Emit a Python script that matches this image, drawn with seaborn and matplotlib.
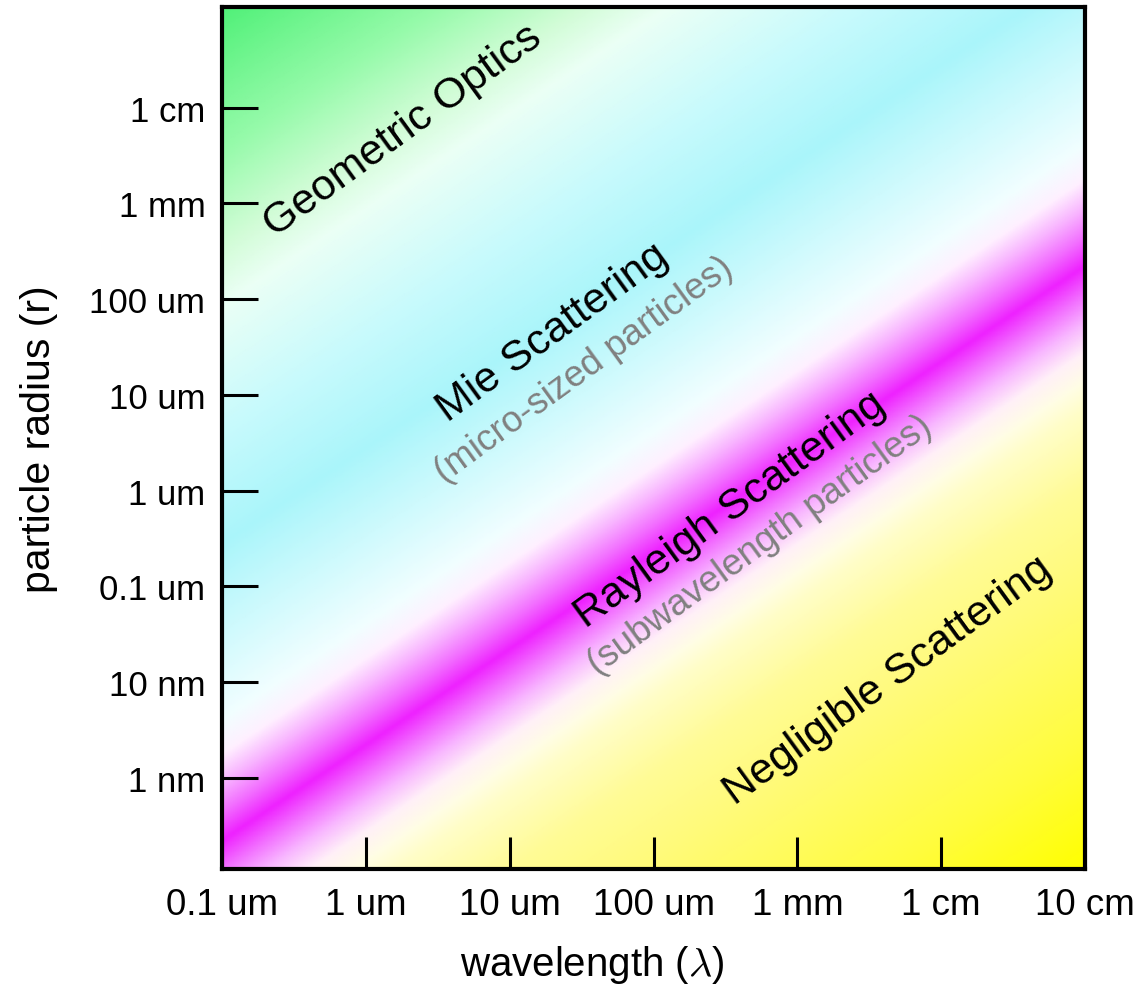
import numpy as np
import matplotlib
matplotlib.use("Agg")
import matplotlib.pyplot as plt
import seaborn as sns
from matplotlib.colors import LinearSegmentedColormap
from matplotlib.ticker import NullLocator

# axis ticks (metres) and their labels
wavelength_ticks = [1e-7, 1e-6, 1e-5, 1e-4, 1e-3, 1e-2, 1e-1]
wavelength_labels = ["0.1 um", "1 um", "10 um", "100 um", "1 mm", "1 cm", "10 cm"]
radius_ticks = [1e-9, 1e-8, 1e-7, 1e-6, 1e-5, 1e-4, 1e-3, 1e-2]
radius_labels = ["1 nm", "10 nm", "0.1 um", "1 um", "10 um", "100 um", "1 mm", "1 cm"]

# background colour as a function of log10(r / lambda)
ratio_stops = [-8.95, -7.65, -5.85, -4.95, -4.15, -3.85, -3.55, -3.25, -2.95, -2.65,
               -2.35, -2.05, -1.75, -1.4, 0.45, 1.65, 2.95, 3.55, 4.55, 6.05]
stop_colors = ["#FFFF00", "#FFFC3C", "#FFFA7A", "#FFFB96", "#FFFDC8", "#FFFDE6",
               "#FFF0F8", "#F8B8FF", "#F270FF", "#EE22FF", "#F270FF", "#F8B4FF",
               "#FFF0FF", "#F2FEFF", "#AAF5FA", "#C8FAFC", "#EBFFF5", "#D2FCD7",
               "#96FAAA", "#50F078"]

# regime labels
regime_names = ["Geometric Optics", "Mie Scattering", "(micro-sized particles)",
                "Rayleigh Scattering", "(subwavelength particles)", "Negligible Scattering"]
regime_colors = ["black", "black", "#808080", "black", "#808080", "black"]
regime_sizes = [31, 31, 26.5, 31, 26.5, 31]

sns.set_theme(style="white")
plt.rcParams["font.family"] = ["Liberation Sans", "DejaVu Sans"]
plt.rcParams["mathtext.fontset"] = "cm"

fig = plt.figure(figsize=(11.43, 9.87), dpi=100)
ax = fig.add_axes([0.1942, 0.1185, 0.7551, 0.8734])
ax.set_axisbelow(False)

lam = np.logspace(-7, -1, 500)
rad = np.logspace(-10, -0.9, 700)
L, R = np.meshgrid(lam, rad)
ratio = np.log10(R / L)

lo, hi = ratio_stops[0], ratio_stops[-1]
cmap = LinearSegmentedColormap.from_list(
    "scatter", [((s - lo) / (hi - lo), c) for s, c in zip(ratio_stops, stop_colors)], N=4096)
ax.pcolormesh(L, R, ratio, cmap=cmap, vmin=lo, vmax=hi, shading="gouraud",
              rasterized=True, zorder=0)

ax.set_xscale("log")
ax.set_yscale("log")
ax.set_xlim(1e-7, 1e-1)
ax.set_ylim(10 ** -9.95, 10 ** -0.95)
ax.set_xticks(wavelength_ticks, wavelength_labels)
ax.set_yticks(radius_ticks, radius_labels)
ax.xaxis.set_minor_locator(NullLocator())
ax.yaxis.set_minor_locator(NullLocator())
ax.tick_params(direction="in", width=2.2, color="black",
               bottom=True, left=True, top=False, right=False,
               labelcolor="black", pad=12)
ax.tick_params(axis="x", labelsize=26.5, pad=13, length=23)
ax.tick_params(axis="y", labelsize=25, length=26)

for sp in ax.spines.values():
    sp.set_visible(True)
    sp.set_color("black")
    sp.set_linewidth(3)
    sp.set_zorder(5)

ax.set_xlabel(r"wavelength ($\lambda$)", fontsize=29, color="black")
ax.set_ylabel("particle radius (r)", fontsize=29.5, color="black")
ax.xaxis.set_label_coords(0.429, -0.086)
ax.yaxis.set_label_coords(-0.19, 0.5)

# label anchors given as (log10 lambda, log10 r)
anchors = [(-5.74, -2.24), (-4.70, -4.34), (-4.48, -4.73),
           (-3.47, -6.19), (-3.26, -6.56), (-2.37, -7.97)]
for name, col, size, (lx, ly) in zip(regime_names, regime_colors, regime_sizes, anchors):
    ax.text(10 ** lx, 10 ** ly, name, color=col, fontsize=size, rotation=36,
            rotation_mode="anchor", ha="center", va="center", zorder=6)

fig.savefig("out.png", dpi=100, facecolor="white")
